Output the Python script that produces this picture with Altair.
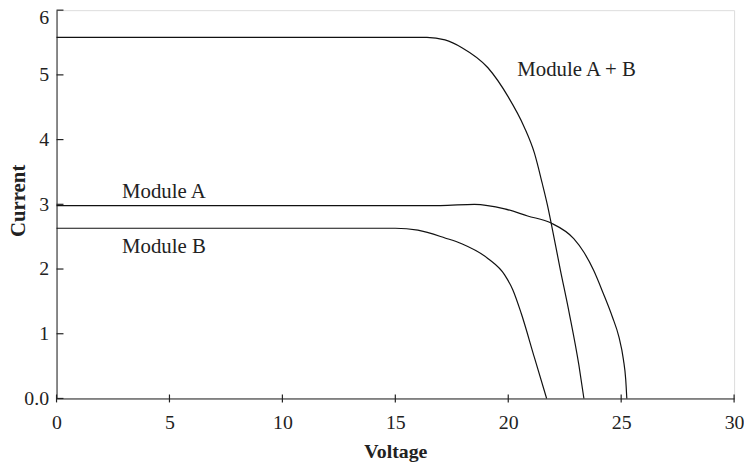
import altair as alt
import pandas as pd

# Module A
a_v = [0, 17.0, 18.5, 19.84, 20.86, 21.9, 22.9, 23.35, 23.78, 24.2, 24.6, 24.9, 25.1, 25.2, 25.25]
a_i = [2.98, 2.98, 3.0, 2.93, 2.82, 2.71, 2.47, 2.26, 1.98, 1.63, 1.27, 0.95, 0.6, 0.3, 0.0]
# Module B
b_v = [0, 15.0, 16.0, 17.2, 17.94, 19.11, 19.84, 20.2, 20.57, 21.16, 21.7]
b_i = [2.63, 2.63, 2.6, 2.48, 2.39, 2.16, 1.91, 1.68, 1.32, 0.63, 0.0]
# Module A + B
ab_v = [0, 16.4, 17.2, 17.95, 19.1, 20.0, 20.7, 21.16, 21.5, 21.74, 21.9, 22.3, 22.7, 23.13, 23.35]
ab_i = [5.58, 5.58, 5.54, 5.42, 5.11, 4.66, 4.2, 3.79, 3.33, 2.98, 2.71, 2.0, 1.32, 0.51, 0.0]

labels = ["Module A", "Module B", "Module A + B"]
label_v = [2.9, 2.9, 20.4]
label_i = [3.1, 2.24, 4.99]

x_ticks = [0, 5, 10, 15, 20, 25, 30]
y_ticks = [0, 1, 2, 3, 4, 5, 6]

FONT = "Liberation Serif"
W, H = 684, 392

rows = []
for name, vs, cs in [("A", a_v, a_i), ("B", b_v, b_i), ("AB", ab_v, ab_i)]:
    for i, (v, c) in enumerate(zip(vs, cs)):
        rows.append({"series": name, "order": i, "v": v, "c": c})
df = pd.DataFrame(rows)
lab = pd.DataFrame({"t": labels, "v": label_v, "c": label_i})
xt = pd.DataFrame({"v": x_ticks})
yt = pd.DataFrame({"c": y_ticks})

xs = alt.Scale(domain=[0, 30], nice=False, zero=False)
ys = alt.Scale(domain=[0, 6], nice=False, zero=False)

xaxis = alt.Axis(values=x_ticks, ticks=False, grid=False, labelFont=FONT, labelFontSize=20,
                 labelColor="#222", labelPadding=14, title="Voltage", titleFont=FONT,
                 titleFontSize=20, titleFontWeight="bold", titleColor="#222", titlePadding=10,
                 domainColor="#222", labelFlush=False, format="d")
yaxis = alt.Axis(values=y_ticks, ticks=False, grid=False, labelFont=FONT, labelFontSize=20,
                 labelColor="#222", labelPadding=8, title="Current", titleFont=FONT,
                 titleFontSize=21, titleFontWeight="bold", titleColor="#222",
                 titleX=-28, titleY=192,
                 labelOffset={"condition": {"test": "datum.value == 6", "value": 7}, "value": 0},
                 domainColor="#222", labelFlush=False, format="d",
                 labelExpr="datum.value == 0 ? '0.0' : datum.label")

lines = alt.Chart(df).mark_line(color="#111", strokeWidth=1.2, interpolate="monotone").encode(
    x=alt.X("v:Q", scale=xs, axis=xaxis),
    y=alt.Y("c:Q", scale=ys, axis=yaxis),
    detail="series:N",
    order="order:Q",
)

texts = alt.Chart(lab).mark_text(font=FONT, fontSize=21, align="left", baseline="alphabetic",
                                 color="#222").encode(
    x=alt.X("v:Q", scale=xs), y=alt.Y("c:Q", scale=ys), text="t:N")

xtick = alt.Chart(xt).mark_rule(color="#222", strokeWidth=1.2).encode(
    x=alt.X("v:Q", scale=xs), y=alt.value(H - 4), y2=alt.value(H + 4))
ytick = alt.Chart(yt).mark_rule(color="#222", strokeWidth=1.2).encode(
    y=alt.Y("c:Q", scale=ys), x=alt.value(0), x2=alt.value(7))

chart = alt.layer(lines, texts, xtick, ytick).properties(
    width=W, height=H,
    autosize=alt.AutoSizeParams(type="none"),
    padding={"left": 49, "top": 0, "right": 10, "bottom": 66},
).configure_view(stroke="#222", strokeWidth=1.2).configure(background="white")

chart.save("out.html", embed_options={"renderer": "svg", "actions": False})
